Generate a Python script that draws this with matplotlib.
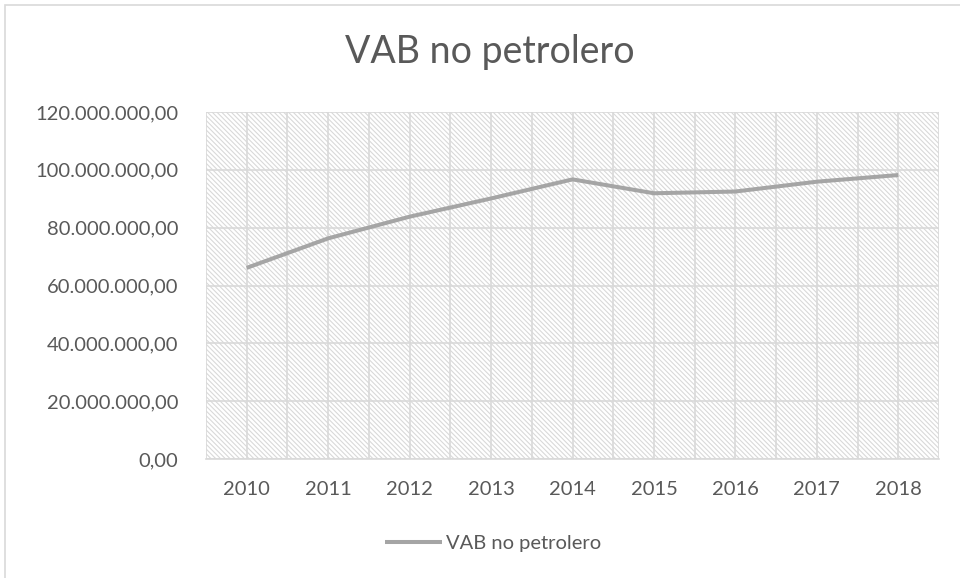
import matplotlib.pyplot as plt
from matplotlib.patches import Rectangle
from matplotlib.ticker import FuncFormatter, MultipleLocator

plt.rcParams["font.family"] = ["Lato", "DejaVu Sans"]
plt.rcParams["hatch.linewidth"] = 0.8
plt.rcParams["hatch.color"] = "#dadada"

years = ["2010", "2011", "2012", "2013", "2014", "2015", "2016", "2017", "2018"]
vab_no_petrolero = [66.1e6, 76.3e6, 83.8e6, 90.1e6, 96.7e6, 91.9e6, 92.5e6, 95.9e6, 98.2e6]
y_ticks = [0, 20e6, 40e6, 60e6, 80e6, 100e6, 120e6]

TEXT = "#595959"
GRID = "#d9d9d9"
LINE = "#a5a5a5"


def fmt_es(v, pos=None):
    # formato con punto de miles y coma decimal
    s = f"{v:,.2f}"
    return s.replace(",", "X").replace(".", ",").replace("X", ".")


fig = plt.figure(figsize=(9.6, 5.78), dpi=100)
ax = fig.add_axes([206 / 960, 119 / 578, 733 / 960, 347 / 578])

# borde del grafico
fig.patches.append(Rectangle((5 / 960, -0.05), 1.0, 1 - 5 / 578 + 0.05,
                             transform=fig.transFigure, fill=False,
                             edgecolor=GRID, linewidth=1.2))

# fondo rayado del area de trazado
ax.add_patch(Rectangle((0, 0), 1, 1, transform=ax.transAxes, facecolor="white",
                       edgecolor=GRID, hatch="\\" * 7, linewidth=0, zorder=0))

x = list(range(len(years)))
ax.plot(x, vab_no_petrolero, color=LINE, linewidth=2.9, solid_capstyle="butt",
        solid_joinstyle="round", label="VAB no petrolero", zorder=3)

ax.set_xlim(-0.5, len(years) - 0.5)
ax.set_ylim(0, 120e6)
ax.set_yticks(y_ticks)
ax.yaxis.set_major_formatter(FuncFormatter(fmt_es))
ax.set_xticks(x)
ax.set_xticklabels(years)
ax.xaxis.set_minor_locator(MultipleLocator(0.5))

ax.grid(True, axis="y", color=GRID, linewidth=1.2, zorder=1)
ax.grid(True, axis="x", which="both", color=GRID, linewidth=1.2, zorder=1)
ax.set_axisbelow(True)

for side in ["top", "right", "left"]:
    ax.spines[side].set_visible(False)
ax.spines["bottom"].set_color(GRID)
ax.spines["bottom"].set_linewidth(1.2)

ax.tick_params(axis="both", which="both", length=0, colors=TEXT, labelsize=14.5)
ax.tick_params(axis="x", pad=16)
ax.tick_params(axis="y", pad=20)

fig.text(490 / 960, 1 - 52 / 578, "VAB no petrolero", ha="center", va="center",
         fontsize=27, color=TEXT)

leg = fig.legend(loc="center", bbox_to_anchor=(493 / 960, 1 - 543 / 578), frameon=False,
                 fontsize=14.5, handlelength=2.8, handletextpad=0.2)
for t in leg.get_texts():
    t.set_color(TEXT)

fig.savefig("out.png", dpi=100)
